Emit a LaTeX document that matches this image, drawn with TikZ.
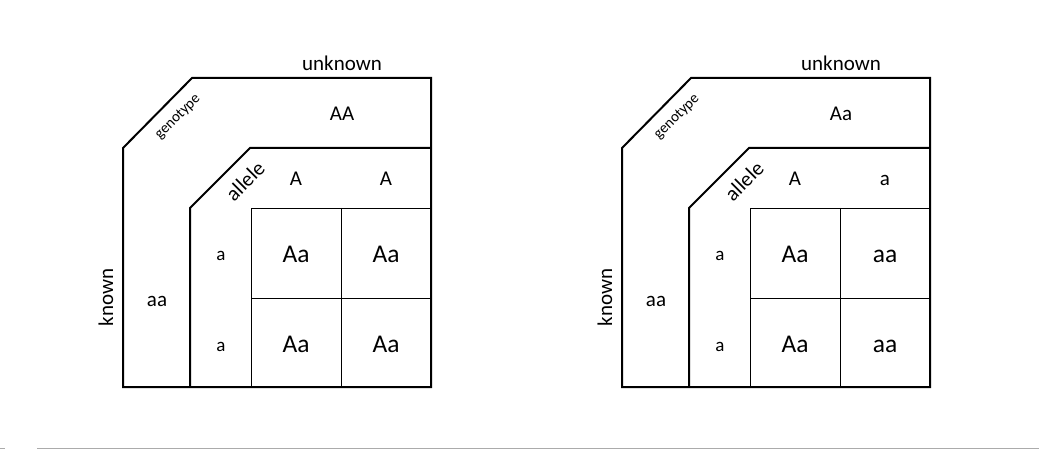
\documentclass[tikz,border=0pt]{standalone}
\usepackage{fontspec}
\setmainfont{Carlito}
\newcommand\punnettsq[9]{%
\begin{scope}[xshift=#1]
  \draw[thickline] (123,387) -- (123,148) -- (192,78) -- (431,78) -- (431,387) -- cycle;
  \draw[thickline] (190,387) -- (190,208) -- (250,148) -- (431,148);
  \draw[thinline] (251,208) rectangle (431,387);
  \draw[thinline] (341,208) -- (341,387);
  \draw[thinline] (251,298) -- (431,298);
  \node[big, anchor=base] (#2unk) at (342,71) {unknown};
  \node[big, anchor=base] (#2top) at (342,121) {#3};
  \node[tiny, rotate=45] (#2gen) at (178,117) {genotype};
  \node[big, rotate=45] (#2all) at (245,181) {allele};
  \node[big, anchor=base] (#2ta) at (296,186) {#4};
  \node[big, anchor=base] (#2tb) at (386,186) {#5};
  \node[small, anchor=base] (#2la) at (221,261) {a};
  \node[small, anchor=base] (#2lb) at (221,351) {a};
  \node[big, anchor=base] (#2kn) at (157,306) {aa};
  \node[big, rotate=90, anchor=base] (#2known) at (113,297.5) {known};
  \node[cell, anchor=base] (#2c11) at (296,262.5) {#6};
  \node[cell, anchor=base] (#2c12) at (386,262.5) {#7};
  \node[cell, anchor=base] (#2c21) at (296,352.5) {#8};
  \node[cell, anchor=base] (#2c22) at (386,352.5) {#9};
\end{scope}}
\begin{document}
\begin{tikzpicture}[x=1pt,y=-1pt,
  thickline/.style={line width=2pt, line join=miter},
  thinline/.style={line width=0.9pt},
  big/.style={inner sep=0pt, font=\fontsize{21}{24}\selectfont},
  small/.style={inner sep=0pt, font=\fontsize{19}{22}\selectfont},
  tiny/.style={inner sep=0pt, font=\fontsize{15}{17}\selectfont},
  cell/.style={inner sep=0pt, font=\fontsize{25.5}{28}\selectfont},
  rule/.style={draw=black!33, line width=1pt}]
\useasboundingbox (0,0) rectangle (1039,449);
\fill[white] (0,0) rectangle (1039,449);
\coordinate (r1a) at (0,448);
\coordinate (r1b) at (5,448);
\coordinate (r2a) at (37,448);
\coordinate (r2b) at (1039,448);
\draw[rule] (r1a) -- (r1b);
\draw[rule] (r2a) -- (r2b);
\punnettsq{0pt}{L}{AA}{A}{A}{Aa}{Aa}{Aa}{Aa}
\punnettsq{499pt}{R}{Aa}{A}{a}{Aa}{aa}{Aa}{aa}
\end{tikzpicture}
\end{document}
